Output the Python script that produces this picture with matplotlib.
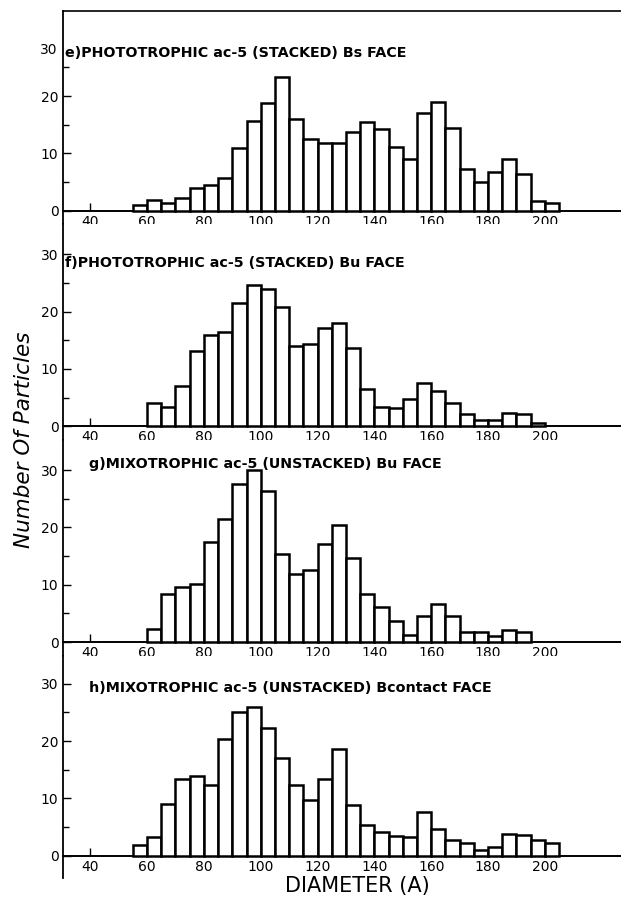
import matplotlib.pyplot as plt
import numpy as np

# particle counts per 5 A bin
titles = ["e)PHOTOTROPHIC ac-5 (STACKED) Bs FACE",
          "f)PHOTOTROPHIC ac-5 (STACKED) Bu FACE",
          "g)MIXOTROPHIC ac-5 (UNSTACKED) Bu FACE",
          "h)MIXOTROPHIC ac-5 (UNSTACKED) Bcontact FACE"]
first_bin = [55, 60, 60, 55]
counts_e = [1.0, 1.9, 1.4, 2.3, 3.9, 4.4, 5.7, 10.9, 15.7, 18.8, 23.4, 16.0, 12.6, 11.8, 11.9,
            13.8, 15.4, 14.2, 11.2, 9.0, 17.0, 18.9, 14.4, 7.3, 5.0, 6.8, 9.1, 6.4, 1.7, 1.3]
counts_f = [4.1, 3.3, 7.0, 13.2, 15.9, 16.4, 21.6, 24.7, 24.0, 20.8, 14.0, 14.4, 17.1, 18.1,
            13.6, 6.5, 3.4, 3.2, 4.8, 7.5, 6.1, 4.0, 2.2, 1.1, 1.1, 2.4, 2.1, 0.5]
counts_g = [2.2, 8.4, 9.6, 10.2, 17.4, 21.4, 27.5, 30.1, 26.3, 15.3, 11.9, 12.5, 17.1, 20.5,
            14.7, 8.4, 6.1, 3.7, 1.3, 4.6, 6.7, 4.6, 1.7, 1.7, 1.0, 2.1, 1.8]
counts_h = [1.9, 3.3, 9.1, 13.4, 13.9, 12.3, 20.3, 25.0, 25.9, 22.2, 17.0, 12.3, 9.8, 13.3,
            18.7, 8.9, 5.3, 4.1, 3.5, 3.2, 7.6, 4.7, 2.8, 2.2, 1.0, 1.6, 3.8, 3.6, 2.8, 2.3]
all_counts = [counts_e, counts_f, counts_g, counts_h]
xticks = [40, 60, 80, 100, 120, 140, 160, 180, 200]

W, H = 621.0, 907.0
fig = plt.figure(figsize=(W / 100, H / 100), dpi=100)

# layout in pixels
left_px = 62.7
base_px = [210.7, 426.3, 642.0, 855.7]
bounds = [11, 224, 440, 656, 878]
px_unit = 5.73
title_pos = [(31.0, 27.6), (31.0, 28.5), (39.4, 31.1), (39.7, 29.2)]

for k in range(4):
    top, bot = bounds[k], bounds[k + 1]
    ax = fig.add_axes([left_px / W, 1 - bot / H, (W - left_px) / W, (bot - top) / H])
    vals = all_counts[k]
    edges = first_bin[k] + 5 * np.arange(len(vals))
    ax.bar(edges, vals, width=5, align='edge', facecolor='white',
           edgecolor='black', linewidth=1.8, zorder=3)
    ax.set_xlim(30.3, 226.8)
    ax.set_ylim(-(bot - base_px[k]) / px_unit, (base_px[k] - top) / px_unit)

    ax.spines['right'].set_visible(False)
    ax.spines['top'].set_visible(k == 0)
    ax.spines['top'].set_linewidth(1.2)
    ax.spines['left'].set_linewidth(1.3)
    ax.spines['bottom'].set_position(('data', 0))
    ax.spines['bottom'].set_linewidth(1.4)

    if k == 0:
        # top panel: the "30" label sits lower, beside the title, with no tick
        ax.set_yticks([0, 10, 20])
        ax.annotate('30', xy=(0, 28.0), xycoords=('axes fraction', 'data'),
                    xytext=(-3.5, 0), textcoords='offset points',
                    ha='right', va='center', fontsize=10)
    else:
        ax.set_yticks([0, 10, 20, 30])
    ax.set_yticks([5, 15, 25], minor=True)
    ax.tick_params(axis='y', which='major', direction='in', length=6, width=1,
                   pad=3, labelsize=10)
    ax.tick_params(axis='y', which='minor', direction='in', length=4.5, width=1)

    ax.set_xticks(xticks)
    ax.tick_params(axis='x', direction='in', length=6, width=1, pad=3, labelsize=10)
    for t in ax.xaxis.get_major_ticks()[1:]:
        t.tick1line.set_visible(False)

    tx, ty = title_pos[k]
    ax.text(tx, ty, titles[k], ha='left', va='center', fontsize=10.3,
            fontweight='bold', zorder=5)

fig.text(0.038, 1 - 440 / H, 'Number Of Particles', rotation=90, style='italic',
         fontsize=15.5, ha='center', va='center')
fig.text(357 / W, 1 - 886 / H, 'DIAMETER (A)', fontsize=15, ha='center', va='center')

plt.savefig('out.png', dpi=100)
plt.close()
